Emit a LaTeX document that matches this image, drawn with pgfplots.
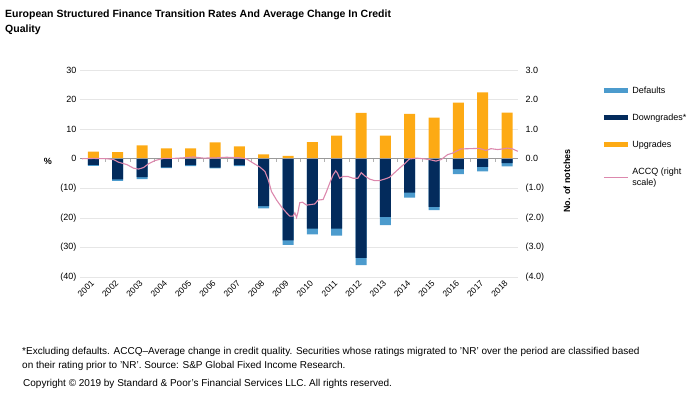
\documentclass[border=0pt]{standalone}
\usepackage{pgfplots}
\pgfplotsset{compat=1.18}
\usepackage{pgfplotstable}
\usepackage{fontspec}
\setmainfont{Liberation Sans}
\definecolor{upc}{HTML}{FDAA14}
\definecolor{downc}{HTML}{032B5C}
\definecolor{defc}{HTML}{4C9BCD}
\definecolor{accq}{HTML}{DC88AD}
\definecolor{gridc}{HTML}{E6E6E6}

\pgfplotstableread{
x up down def
0 2.4 -2.1 -0.3
1 2.2 -7.0 -0.5
2 4.5 -6.2 -0.7
3 3.5 -2.9 -0.3
4 3.5 -2.2 -0.3
5 5.5 -3.0 -0.3
6 4.2 -2.2 -0.3
7 1.5 -16.0 -0.8
8 1.0 -27.6 -1.5
9 5.6 -23.6 -2.0
10 7.8 -23.6 -2.4
11 15.5 -33.5 -2.5
12 7.8 -19.7 -2.8
13 15.2 -11.5 -1.7
14 13.9 -16.3 -1.1
15 19.0 -3.5 -1.7
16 22.4 -2.8 -1.5
17 15.6 -1.5 -1.1
}\bars

\pgfplotstableread{
x y
-0.46 0.00
0.01 0.01
0.56 0.00
0.83 -0.03
1.04 -0.12
1.38 -0.20
1.65 -0.32
1.86 -0.35
2.06 -0.30
2.27 -0.17
2.54 -0.06
2.88 0.01
3.29 0.01
3.70 0.03
4.11 0.06
4.52 0.02
5.07 0.03
5.48 0.05
6.02 0.03
6.30 -0.01
6.57 -0.15
6.84 -0.28
7.05 -0.43
7.19 -0.72
7.32 -1.11
7.53 -1.40
7.73 -1.63
7.94 -1.83
8.07 -1.94
8.21 -1.94
8.28 -1.83
8.35 -1.99
8.41 -1.80
8.48 -1.49
8.59 -1.47
8.76 -1.57
9.10 -1.53
9.23 -1.40
9.44 -1.38
9.58 -1.11
9.71 -0.83
9.85 -0.55
9.96 -0.41
10.03 -0.49
10.12 -0.66
10.26 -0.60
10.46 -0.60
10.67 -0.66
10.87 -0.66
11.01 -0.47
11.15 -0.58
11.35 -0.69
11.56 -0.74
11.76 -0.74
11.97 -0.69
12.17 -0.63
12.38 -0.47
12.58 -0.32
12.79 -0.17
12.99 -0.01
13.27 0.02
13.54 0.00
13.81 -0.03
14.08 -0.08
14.29 -0.03
14.56 0.14
14.77 0.19
14.90 0.25
15.11 0.33
15.45 0.34
15.86 0.35
16.13 0.28
16.34 0.34
16.61 0.31
16.82 0.33
17.02 0.36
17.23 0.33
17.44 0.25
}\accqdata

\begin{document}
\begin{tikzpicture}
\useasboundingbox (0pt,0pt) rectangle (699pt,393pt);
% title
\node[anchor=north west, align=left, font=\fontsize{10.5}{15}\selectfont\bfseries, inner sep=0pt] at (5pt,383pt) {European Structured Finance Transition Rates And Average Change In Credit\\Quality};
\begin{axis}[
  at={(80pt,116pt)}, anchor=south west,
  scale only axis, width=438pt, height=207pt,
  xmin=-0.55, xmax=17.45, ymin=-40, ymax=30,
  ybar, bar width=11pt, bar shift=0pt,
  axis line style={draw=none},
  tick style={draw=none},
  ymajorgrids, grid style={gridc, line width=0.6pt},
  ytick={-40,-30,...,30},
  yticklabels={(40),(30),(20),(10),0,10,20,30},
  xtick={0,...,17},
  xticklabels={2001,2002,2003,2004,2005,2006,2007,2008,2009,2010,2011,2012,2013,2014,2015,2016,2017,2018},
  xticklabel style={rotate=45, anchor=east, font=\fontsize{8.5}{10}\selectfont, inner sep=1pt},
  yticklabel style={font=\fontsize{9}{10}\selectfont},
  /pgf/number format/assume math mode=true,
  clip=false,
]
\addplot[fill=defc, draw=none, forget plot] table[x=x, y expr=\thisrow{down}+\thisrow{def}] {\bars};
\addplot[fill=downc, draw=none, forget plot] table[x=x, y=down] {\bars};
\addplot[fill=upc, draw=none, forget plot] table[x=x, y=up] {\bars};
\end{axis}
\begin{axis}[
  at={(80pt,116pt)}, anchor=south west,
  scale only axis, width=438pt, height=207pt,
  xmin=-0.55, xmax=17.45, ymin=-4, ymax=3,
  axis x line*=middle, axis y line*=right,
  x axis line style={draw=black!40, line width=0.5pt},
  y axis line style={draw=none},
  ytick={-4,-3,...,3},
  yticklabels={(4.0),(3.0),(2.0),(1.0),0.0,1.0,2.0,3.0},
  ytick style={draw=none},
  yticklabel style={font=\fontsize{9}{10}\selectfont, anchor=west, xshift=4pt},
  xtick={0.5,1.5,...,16.5},
  xticklabels={},
  xtick style={draw=black!30, line width=0.5pt},
  xtick align=outside,
  major tick length=3pt,
  /pgf/number format/assume math mode=true,
  clip=false,
  legend style={at={(1.19,0.93)}, anchor=north west, draw=none, fill=none,
    font=\fontsize{9}{11}\selectfont, row sep=15pt, nodes={align=left, anchor=west},
    inner sep=0pt},
  legend cell align=left,
  legend image code/.code={\draw[#1] (0pt,0pt) -- (24pt,0pt);},
]
\addlegendimage{defc, line width=5pt}
\addlegendentry{Defaults}
\addlegendimage{downc, line width=5pt}
\addlegendentry{Downgrades*}
\addlegendimage{upc, line width=5pt}
\addlegendentry{Upgrades}
\addplot[accq, line width=1.1pt, mark=none] table[x=x, y=y] {\accqdata};
\addlegendentry{ACCQ (right\\scale)}
\end{axis}
\node[font=\fontsize{9}{10}\selectfont\bfseries] at (48pt,232pt) {\%};
\node[font=\fontsize{9}{10}\selectfont\bfseries, rotate=90] at (567pt,212pt) {No. of notches};
% footnotes
\node[anchor=north west, align=left, font=\fontsize{10}{14.5}\selectfont, inner sep=0pt] at (22pt,46pt) {*Excluding defaults. ACCQ--Average change in credit quality. Securities whose ratings migrated to 'NR' over the period are classified based\\on their rating prior to 'NR'. Source: S\&P Global Fixed Income Research.};
\node[anchor=north west, font=\fontsize{10}{12}\selectfont, inner sep=0pt] at (23pt,14pt) {Copyright \textcopyright{} 2019 by Standard \& Poor's Financial Services LLC. All rights reserved.};
\end{tikzpicture}
\end{document}
